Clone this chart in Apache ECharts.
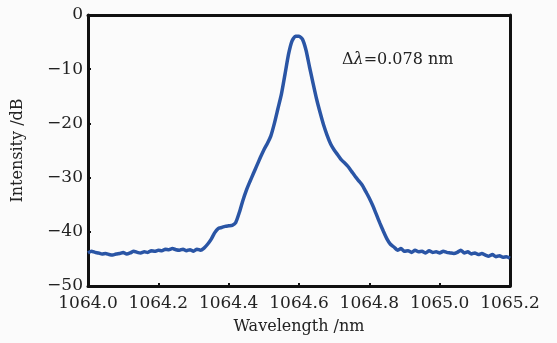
<!DOCTYPE html>
<html>
<head>
<meta charset="utf-8">
<script src="https://cdn.jsdelivr.net/npm/echarts@6/dist/echarts.min.js"></script>
<style>
  html, body { margin: 0; padding: 0; background: #fbfbfb; }
  #chart { width: 557px; height: 343px; }
</style>
</head>
<body>
<div id="chart"></div>
<script>
// 波长 (nm) 与强度 (dB)
const wavelength = [
  1064.00, 1064.01, 1064.02, 1064.03, 1064.04, 1064.05, 1064.06, 1064.07, 1064.08, 1064.09,
  1064.10, 1064.11, 1064.12, 1064.13, 1064.14, 1064.15, 1064.16, 1064.17, 1064.18, 1064.19,
  1064.20, 1064.21, 1064.22, 1064.23, 1064.24, 1064.25, 1064.26, 1064.27, 1064.28, 1064.29,
  1064.30, 1064.31, 1064.32, 1064.33, 1064.34, 1064.35, 1064.36, 1064.37, 1064.38, 1064.39,
  1064.40, 1064.41, 1064.42, 1064.43, 1064.44, 1064.45, 1064.46, 1064.47, 1064.48, 1064.49,
  1064.50, 1064.51, 1064.52, 1064.53, 1064.54, 1064.55, 1064.56, 1064.57, 1064.58, 1064.59,
  1064.60, 1064.61, 1064.62, 1064.63, 1064.64, 1064.65, 1064.66, 1064.67, 1064.68, 1064.69,
  1064.70, 1064.71, 1064.72, 1064.73, 1064.74, 1064.75, 1064.76, 1064.77, 1064.78, 1064.79,
  1064.80, 1064.81, 1064.82, 1064.83, 1064.84, 1064.85, 1064.86, 1064.87, 1064.88, 1064.89,
  1064.90, 1064.91, 1064.92, 1064.93, 1064.94, 1064.95, 1064.96, 1064.97, 1064.98, 1064.99,
  1065.00, 1065.01, 1065.02, 1065.03, 1065.04, 1065.05, 1065.06, 1065.07, 1065.08, 1065.09,
  1065.10, 1065.11, 1065.12, 1065.13, 1065.14, 1065.15, 1065.16, 1065.17, 1065.18, 1065.19,
  1065.20
];
const intensity = [
  -43.9, -43.6, -43.8, -43.9, -44.1, -44.0, -44.2, -44.3, -44.1, -44.0,
  -43.8, -44.1, -43.9, -43.6, -43.8, -43.9, -43.7, -43.8, -43.5, -43.6,
  -43.4, -43.5, -43.2, -43.3, -43.1, -43.3, -43.4, -43.2, -43.5, -43.3,
  -43.6, -43.2, -43.4, -43.0, -42.3, -41.4, -40.2, -39.4, -39.2, -39.0,
  -38.9, -38.8, -38.3, -36.5, -34.3, -32.4, -30.8, -29.3, -27.8, -26.3,
  -24.9, -23.7, -22.3, -20.0, -17.3, -14.6, -11.0, -7.3, -4.8, -3.9,
  -3.9, -4.5, -6.5, -9.6, -12.6, -15.5, -18.0, -20.3, -22.2, -23.8,
  -24.9, -25.8, -26.7, -27.3, -28.0, -28.9, -29.8, -30.6, -31.4, -32.6,
  -33.8, -35.2, -36.8, -38.4, -39.9, -41.3, -42.3, -42.8, -43.4, -43.1,
  -43.6, -43.5, -43.8, -43.4, -43.7, -43.6, -43.9, -43.5, -43.8, -43.7,
  -43.9, -43.6, -43.8, -43.9, -44.0, -43.8, -43.4, -43.9, -43.7, -44.1,
  -43.9, -44.2, -44.0, -44.3, -44.5, -44.2, -44.6, -44.4, -44.7, -44.6,
  -44.9
];

const FONT = '"DejaVu Serif", "Liberation Serif", serif';
const minus = v => String(v).replace('-', '\u2212');

// 只画边框的辅助轴（上、右）
const frameAxis = {
  type: 'value',
  axisLine: { show: true, onZero: false, lineStyle: { color: '#111', width: 3 } },
  axisTick: { show: false },
  axisLabel: { show: false },
  splitLine: { show: false }
};

const chart = echarts.init(document.getElementById('chart'), null, { renderer: 'canvas' });

chart.setOption({
  backgroundColor: '#fbfbfb',
  animation: false,
  grid: { left: 88, right: 47, top: 15, bottom: 57 },
  xAxis: [{
    type: 'value',
    min: 1064, max: 1065.2, interval: 0.2,
    name: 'Wavelength /nm',
    nameLocation: 'middle', nameGap: 33,
    nameTextStyle: { fontFamily: FONT, fontSize: 16, color: '#222' },
    axisLine: { onZero: false, lineStyle: { color: '#111', width: 3 } },
    axisTick: { inside: true, length: 3, lineStyle: { color: '#111', width: 2 } },
    axisLabel: {
      fontFamily: FONT, fontSize: 17, color: '#222', margin: 9,
      formatter: v => v.toFixed(1)
    },
    splitLine: { show: false }
  }, Object.assign({ position: 'top', min: 1064, max: 1065.2 }, frameAxis)],
  yAxis: [{
    type: 'value',
    min: -50, max: 0, interval: 10,
    name: 'Intensity /dB',
    nameLocation: 'middle', nameGap: 62,
    nameTextStyle: { fontFamily: FONT, fontSize: 16, color: '#222' },
    axisLine: { onZero: false, lineStyle: { color: '#111', width: 3 } },
    axisTick: { inside: true, length: 3, lineStyle: { color: '#111', width: 2 } },
    axisLabel: {
      fontFamily: FONT, fontSize: 17, color: '#222', margin: 5,
      formatter: v => minus(v)
    },
    splitLine: { show: false }
  }, Object.assign({ position: 'right', min: -50, max: 0 }, frameAxis)],
  series: [{
    type: 'line',
    data: wavelength.map((w, i) => [w, intensity[i]]),
    showSymbol: false,
    smooth: 0.2,
    lineStyle: { color: '#2a55a5', width: 3.5 }
  }],
  graphic: [{
    type: 'text',
    left: 342, top: 52,
    style: {
      text: '{d|\u0394}{l|\u03bb}{d|=0.078 nm}',
      rich: {
        d: { fontFamily: FONT, fontSize: 16, fill: '#222' },
        l: { fontFamily: FONT, fontSize: 16, fontStyle: 'italic', fill: '#222' }
      }
    }
  }]
});

window.addEventListener('resize', () => chart.resize());
</script>
</body>
</html>
